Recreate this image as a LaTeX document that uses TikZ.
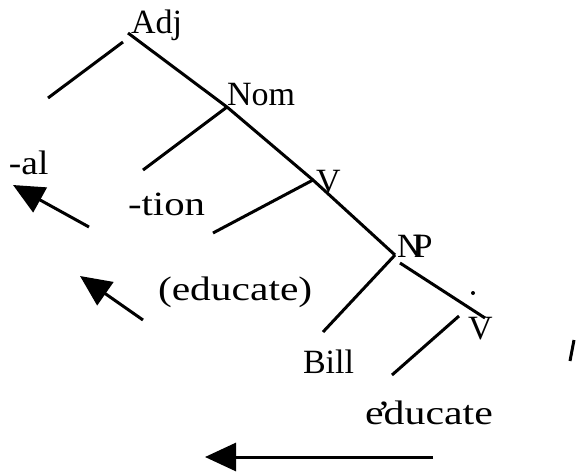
\documentclass[tikz,border=0pt]{standalone}
\usepackage{fontspec}
\setmainfont{Liberation Serif}
\usetikzlibrary{arrows.meta}
\tikzset{
  lbl/.style={anchor=base west,inner sep=0pt,outer sep=0pt,font=\fontsize{34}{40}\selectfont},
  branch/.style={line width=3pt},
  bigarrow/.style={line width=3pt,-{Triangle[length=31pt,width=28pt]}},
}
\newcommand{\wid}[2]{\scalebox{#1}[1]{#2}}
\begin{document}
\begin{tikzpicture}[x=1pt,y=-1pt]
\useasboundingbox (0,0) rectangle (576,472);
% labels
\node[lbl] (adj) at (131,33) {Adj};
\node[lbl] (nom) at (227,105) {Nom};
\node[lbl] (v1) at (316,192) {V};
\node[lbl] (np) at (397,257) {N\kern-8pt P};
\node[lbl] (v2) at (468,339) {V};
\node[lbl] (al) at (9,174) {\wid{1.1}{-al}};
\node[lbl] (tion) at (128,215) {\wid{1.2}{-tion}};
\node[lbl] (edpar) at (158,300) {\wid{1.22}{(educate)}};
\node[lbl] (bill) at (303,373) {Bill};
\node[lbl] (educ) at (365,424) {\wid{1.23}{e\kern-.16em’\kern-.17em ducate}};
% branch end points
\coordinate (adjtop) at (128,33);
\coordinate (adjL) at (123,42);
\coordinate (adjLend) at (48,98);
\coordinate (nomP) at (227,107);
\coordinate (nomLend) at (143,170);
\coordinate (vP) at (313,180);
\coordinate (vLend) at (213,233);
\coordinate (npP) at (395,255);
\coordinate (npLend) at (323,332);
\coordinate (npR) at (400,263);
\coordinate (npRend) at (485,318);
\coordinate (v2L) at (459,316);
\coordinate (v2Lend) at (392,375);
% branches
\draw[branch] (adjL) -- (adjLend);
\draw[branch] (adjtop) -- (nomP) -- (vP) -- (npP);
\draw[branch] (nomP) -- (nomLend);
\draw[branch] (vP) -- (vLend);
\draw[branch] (npP) -- (npLend);
\draw[branch] (npR) -- (npRend);
\draw[branch] (v2L) -- (v2Lend);
% dot and stray stroke
\fill (473,293) circle (2pt);
\draw[line width=3pt] (574,340) -- (570,361);
% arrows
\coordinate (a1s) at (89,227);
\coordinate (a1e) at (13,185);
\coordinate (a2s) at (143,320);
\coordinate (a2e) at (80,276);
\coordinate (a3s) at (433,457);
\coordinate (a3e) at (205,457);
\draw[bigarrow] (a1s) -- (a1e);
\draw[bigarrow] (a2s) -- (a2e);
\draw[bigarrow] (a3s) -- (a3e);
\end{tikzpicture}
\end{document}
